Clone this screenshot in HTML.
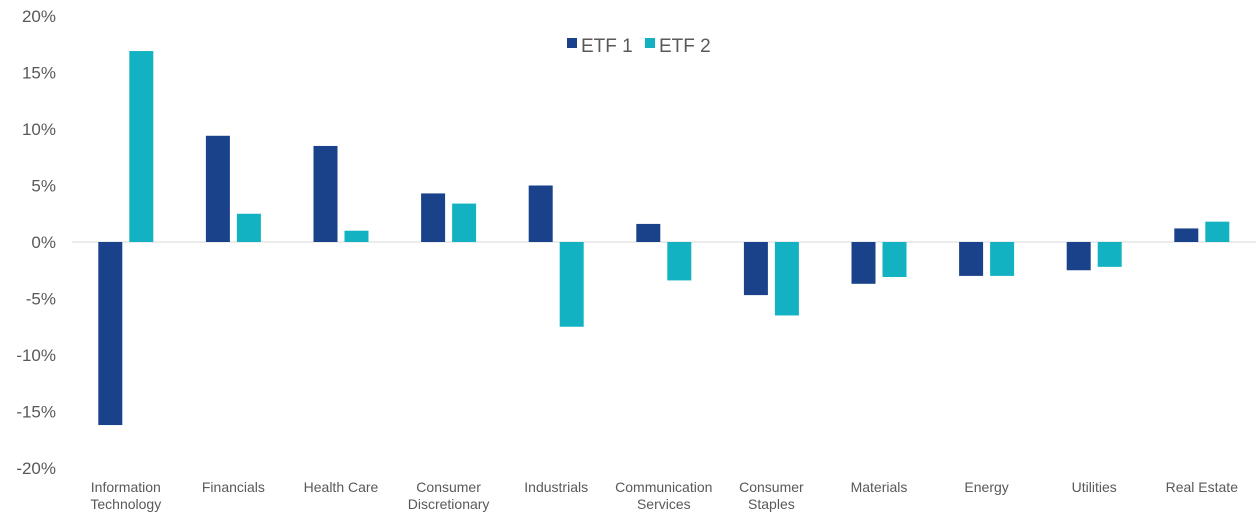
<!DOCTYPE html>
<html><head><meta charset="utf-8"><style>
body{margin:0;background:#fff;font-family:"Liberation Sans",sans-serif}
svg text{font-family:"Liberation Sans",sans-serif;fill:#595959}
</style></head><body>
<svg id="chart" width="1259" height="527" xmlns="http://www.w3.org/2000/svg">
<g id="yaxis"></g>
<g id="bars"></g>
<g id="xaxis"></g>
<g>
<rect x="567" y="38" width="10" height="10" fill="#1a428a"/>
<text x="581" y="52" font-size="19">ETF 1</text>
<rect x="645" y="38" width="10" height="10" fill="#13b2c2"/>
<text x="659" y="52" font-size="19">ETF 2</text>
</g>
</svg>
<script>
const categories=[["Information","Technology"],["Financials"],["Health Care"],["Consumer","Discretionary"],["Industrials"],["Communication","Services"],["Consumer","Staples"],["Materials"],["Energy"],["Utilities"],["Real Estate"]];
const etf1=[-16.2,9.4,8.5,4.3,5.0,1.6,-4.7,-3.7,-3.0,-2.5,1.2];
const etf2=[16.9,2.5,1.0,3.4,-7.5,-3.4,-6.5,-3.1,-3.0,-2.2,1.8];
const yTicks=[20,15,10,5,0,-5,-10,-15,-20];
const NS="http://www.w3.org/2000/svg";
const y=v=>242-v*11.3;
const x0=72,step=107.6;
const cx=i=>x0+step*(i+0.5);
const yax=document.getElementById('yaxis');
yTicks.forEach(t=>{
 const tx=document.createElementNS(NS,'text');
 
 
 tx.setAttribute('x',56);tx.setAttribute('y',y(t)+6);tx.setAttribute('text-anchor','end');tx.setAttribute('font-size','17');
 tx.textContent=t+'%';yax.appendChild(tx);
});
const base=document.createElementNS(NS,'line');


base.setAttribute('x1',x0);base.setAttribute('x2',1256);base.setAttribute('y1',y(0));base.setAttribute('y2',y(0));base.setAttribute('stroke','#d9d9d9');
yax.appendChild(base);
const bg=document.getElementById('bars');
function bar(v,xl,col,name){
 const r=document.createElementNS(NS,'rect');
 
 
 r.setAttribute('x',xl);r.setAttribute('width',24);
 r.setAttribute('y',Math.min(y(v),y(0)));r.setAttribute('height',Math.abs(y(v)-y(0)));
 r.setAttribute('fill',col);bg.appendChild(r);
}
const xa=document.getElementById('xaxis');
categories.forEach((c,i)=>{
 bar(etf1[i],cx(i)-27.5,'#1a428a','bar-etf1');
 bar(etf2[i],cx(i)+3.5,'#13b2c2','bar-etf2');
 c.forEach((line,j)=>{
  const tx=document.createElementNS(NS,'text');
  
  
  tx.setAttribute('x',cx(i));tx.setAttribute('y',492+j*17);tx.setAttribute('text-anchor','middle');tx.setAttribute('font-size','14');
  tx.textContent=line;xa.appendChild(tx);
 });
});
</script>
</body></html>
